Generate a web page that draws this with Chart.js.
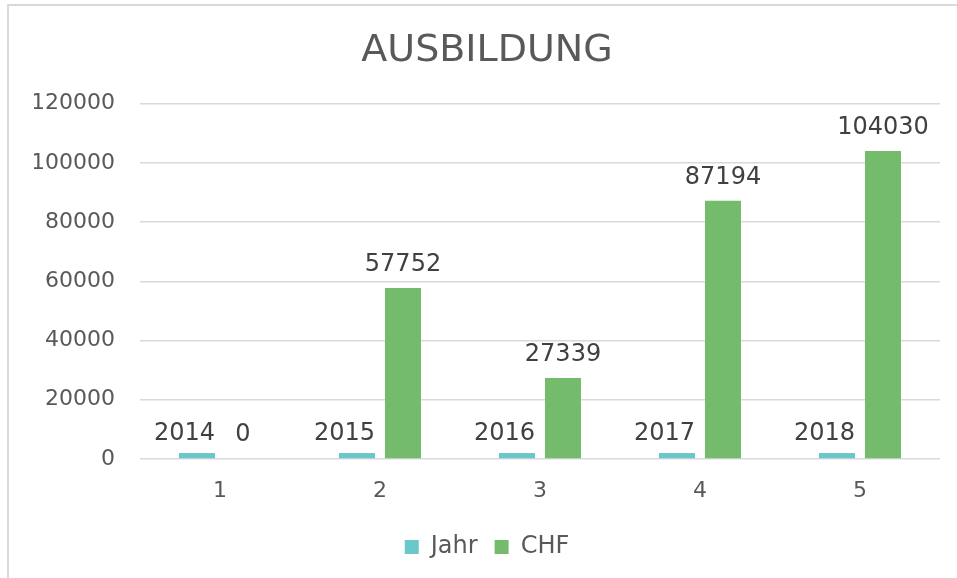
<!DOCTYPE html>
<html>
<head>
<meta charset="utf-8">
<script src="https://cdn.jsdelivr.net/npm/chart.js@4"></script>
<style>
  html, body { margin: 0; padding: 0; background: #fff; overflow: hidden; }
  #wrap { position: relative; width: 957px; height: 578px; overflow: hidden; }
  #frame { position: absolute; left: 7px; top: 4px; width: 1000px; height: 1000px; border: 2px solid #d9d9d9; }
  canvas { position: absolute; left: 0; top: 0; }
</style>
</head>
<body>
<div id="wrap">
  <div id="frame"></div>
  <canvas id="chart" width="957" height="578"></canvas>
</div>
<script>
let categories = ['1', '2', '3', '4', '5'];
let jahr = [2014, 2015, 2016, 2017, 2018];
let chf = [0, 57752, 27339, 87194, 104030];
let yTicks = [0, 20000, 40000, 60000, 80000, 100000, 120000];

const font = 'DejaVu Sans';

// values written above each bar
const barLabels = {
    id: 'barLabels',
    afterDatasetsDraw(chart) {
        const ctx = chart.ctx;
        ctx.save();
        ctx.font = '24px "' + font + '"';
        ctx.fillStyle = '#404040';
        ctx.textBaseline = 'bottom';
        chart.data.datasets.forEach((ds, i) => {
            chart.getDatasetMeta(i).data.forEach((bar, j) => {
                // zero / tiny bars share one label row just above the axis
                let top = Math.min(bar.y, bar.base - 6);
                let gap = bar.base - bar.y > 20 ? 11 : 6;
                if (i === 0) {
                    // first series labels sit flush with the bar's right edge
                    ctx.textAlign = 'right';
                    ctx.fillText(String(ds.data[j]), bar.x + bar.width / 2, top - gap);
                } else {
                    ctx.textAlign = 'center';
                    ctx.fillText(String(ds.data[j]), bar.x, top - gap);
                }
            });
        });
        ctx.restore();
    }
};

const ctx = document.getElementById('chart').getContext('2d');
let myBarChart = new Chart(ctx, {
    type: 'bar',
    data: {
        labels: categories,
        datasets: [{
            label: 'Jahr',
            data: jahr,
            backgroundColor: '#6bc8ca',
            categoryPercentage: 0.575,
            barPercentage: 0.783,
        }, {
            label: 'CHF',
            data: chf,
            backgroundColor: '#75bb6c',
            categoryPercentage: 0.575,
            barPercentage: 0.783,
        }]
    },
    options: {
        responsive: false,
        animation: false,
        layout: { padding: { left: 34, right: 17, top: 0, bottom: 9 } },
        plugins: {
            title: {
                display: true,
                text: 'AUSBILDUNG',
                color: '#595959',
                font: { family: font, size: 38, weight: 'normal' },
                padding: { top: 28, bottom: 30 },
            },
            legend: {
                position: 'bottom',
                labels: {
                    color: '#595959',
                    font: { family: font, size: 24 },
                    boxWidth: 14,
                    boxHeight: 14,
                    padding: 17,
                },
            },
            tooltip: { enabled: false },
        },
        scales: {
            x: {
                grid: { display: false },
                border: { display: false },
                ticks: { color: '#595959', font: { family: font, size: 22 }, padding: 11 },
                afterFit(scale) { scale.height = 59; },
            },
            y: {
                min: 0,
                max: 120000,
                afterBuildTicks(scale) { scale.ticks = yTicks.map(v => ({ value: v })); },
                grid: { color: '#d9d9d9', lineWidth: 1.5, drawTicks: false, tickLength: 0 },
                border: { display: false },
                ticks: {
                    color: '#595959',
                    font: { family: font, size: 22 },
                    padding: 25,
                    callback: v => String(v),
                },
                afterFit(scale) { scale.width = 106; },
            },
        },
    },
    plugins: [barLabels],
});
</script>
</body>
</html>
